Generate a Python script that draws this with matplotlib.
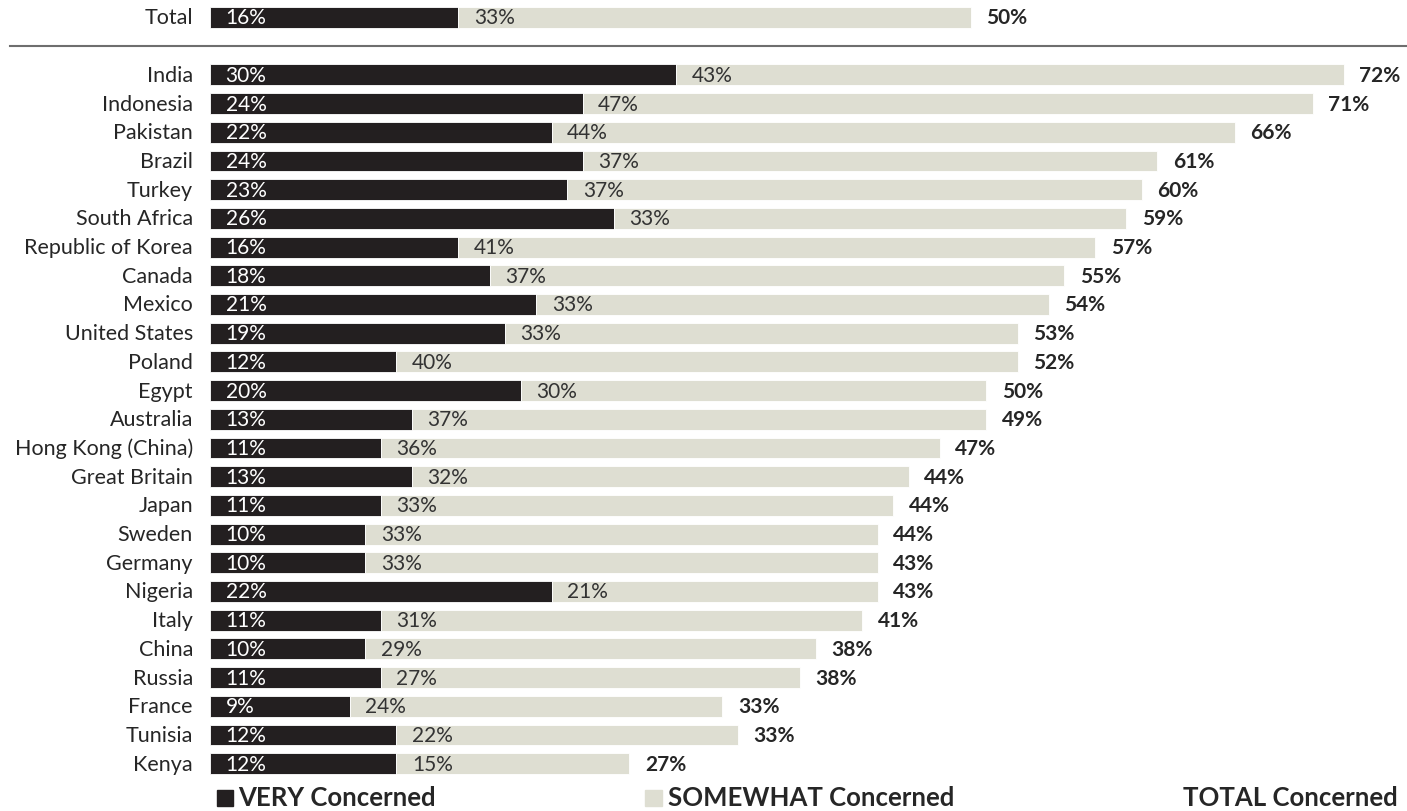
import matplotlib
matplotlib.use("Agg")
import matplotlib.pyplot as plt
from matplotlib.patches import Rectangle

plt.rcParams['font.family'] = ['Lato', 'DejaVu Sans']

countries = ["Total", "India", "Indonesia", "Pakistan", "Brazil", "Turkey", "South Africa",
             "Republic of Korea", "Canada", "Mexico", "United States", "Poland", "Egypt",
             "Australia", "Hong Kong (China)", "Great Britain", "Japan", "Sweden", "Germany",
             "Nigeria", "Italy", "China", "Russia", "France", "Tunisia", "Kenya"]
very = [16, 30, 24, 22, 24, 23, 26, 16, 18, 21, 19, 12, 20, 13, 11, 13, 11, 10, 10, 22,
        11, 10, 11, 9, 12, 12]
somewhat = [33, 43, 47, 44, 37, 37, 33, 41, 37, 33, 33, 40, 30, 37, 36, 32, 33, 33, 33, 21,
            31, 29, 27, 24, 22, 15]
total = [50, 72, 71, 66, 61, 60, 59, 57, 55, 54, 53, 52, 50, 49, 47, 44, 44, 44, 43, 43,
         41, 38, 38, 33, 33, 27]
legend_labels = ["VERY Concerned", "SOMEWHAT Concerned", "TOTAL Concerned"]

DARK = "#231f20"
LIGHT = "#deded2"
TEXT = "#262626"

fig = plt.figure(figsize=(14.07, 8.12), dpi=100)
ax = fig.add_axes([210 / 1407, 0, 1 - 210 / 1407, 1])

ypos = [0] + [i + 2 for i in range(len(countries) - 1)]
h = 0.73
ax.barh(ypos, very, height=h, color=DARK, edgecolor="white", linewidth=0.6)
ax.barh(ypos, somewhat, left=very, height=h, color=LIGHT, edgecolor="white", linewidth=0.6)

for y, name, v, s, t in zip(ypos, countries, very, somewhat, total):
    ax.text(-1.1, y, name, ha="right", va="center", fontsize=15.5, color=TEXT)
    ax.text(1.0, y, f"{v}%", ha="left", va="center", fontsize=15, color="white")
    ax.text(v + 1.0, y, f"{s}%", ha="left", va="center", fontsize=15, color="#333333")
    ax.text(v + s + 1.0, y, f"{t}%", ha="left", va="center", fontsize=15,
            color=TEXT, fontweight="bold")

ax.set_xlim(0, (1407 - 210) / 15.53)
ax.set_ylim((812 - 18.5) / 28.7, -18.5 / 28.7)
ax.axis("off")

# separator line
fig.add_artist(plt.Line2D([10 / 1407, 1], [1 - 47 / 812, 1 - 47 / 812],
                          color="#6e6e6e", linewidth=1.5))

# legend
base = 1 - 806 / 812
fig.add_artist(Rectangle((217 / 1407, 1 - 807 / 812), 16 / 1407, 16 / 812,
                         color=DARK, transform=fig.transFigure))
fig.text(238 / 1407, base, legend_labels[0], ha="left", va="baseline", fontsize=18.5,
         fontweight="bold", color=TEXT)
fig.add_artist(Rectangle((645 / 1407, 1 - 807 / 812), 17 / 1407, 16 / 812,
                         color=LIGHT, transform=fig.transFigure))
fig.text(668 / 1407, base, legend_labels[1], ha="left", va="baseline", fontsize=18.5,
         fontweight="bold", color=TEXT)
fig.text(1398 / 1407, base, legend_labels[2], ha="right", va="baseline", fontsize=18.5,
         fontweight="bold", color=TEXT)

fig.savefig("out.png", dpi=100)
